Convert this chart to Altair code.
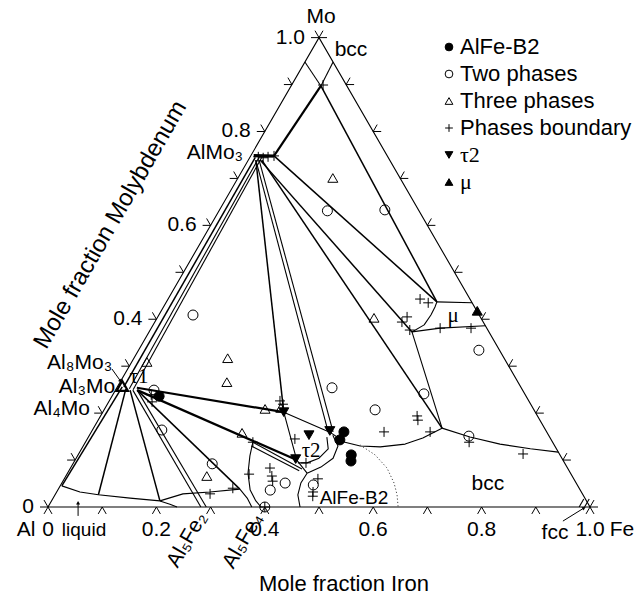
import numpy as np
import pandas as pd
import altair as alt

SQ3 = np.sqrt(3.0)

# ---------------------------------------------------------------------------
# Sample compositions, mole fractions (x_Fe, x_Mo); x_Al = 1 - x_Fe - x_Mo
# ---------------------------------------------------------------------------
B2_FE = [0.466, 0.467, 0.504, 0.510, 0.087]
B2_MO = [0.160, 0.143, 0.111, 0.098, 0.236]

TWO_FE = [0.200, 0.305, 0.063, 0.071, 0.128, 0.257, 0.397, 0.500, 0.573,
          0.628, 0.701, 0.392, 0.412, 0.466, 0.400]
TWO_MO = [0.631, 0.633, 0.409, 0.249, 0.164, 0.092, 0.254, 0.207, 0.241,
          0.334, 0.151, 0.036, 0.051, 0.047, 0.000]

THREE_FE = [0.175, 0.028, 0.173, 0.197, 0.296, 0.324, 0.279, 0.260, 0.400]
THREE_MO = [0.701, 0.309, 0.317, 0.266, 0.209, 0.211, 0.158, 0.066, 0.403]

BOUND_FE = [0.015, 0.025, 0.033, 0.043, 0.058, 0.465, 0.484, 0.460, 0.456,
            0.479, 0.533, 0.590, 0.584, 0.590, 0.540, 0.625, 0.708, 0.820,
            0.383, 0.429, 0.315, 0.324, 0.368, 0.380, 0.387, 0.468, 0.473,
            0.477, 0.309, 0.336, 0.285, 0.321, 0.071, 0.080, 0.400]
BOUND_MO = [0.746, 0.744, 0.746, 0.748, 0.899, 0.443, 0.435, 0.405, 0.394,
            0.377, 0.381, 0.381, 0.194, 0.185, 0.160, 0.160, 0.138, 0.113,
            0.145, 0.094, 0.226, 0.219, 0.083, 0.066, 0.055, 0.060, 0.032,
            0.023, 0.138, 0.070, 0.028, 0.040, 0.239, 0.224, 0.000]

TAU2_FE = [0.334, 0.405, 0.439, 0.406]
TAU2_MO = [0.202, 0.153, 0.162, 0.102]

MU_FE = [0.583]
MU_MO = [0.418]

AL3MO_FE = [0.008]
AL3MO_MO = [0.258]

# ---------------------------------------------------------------------------
# Tie lines and phase boundaries: (x_Fe list, x_Mo list)
# ---------------------------------------------------------------------------
LINES = {
    "bcc_solvus_al": ([0.000, 0.055], [0.948, 0.897]),
    "bcc_solvus_fe": ([0.052, 0.055], [0.948, 0.897]),
    "bcc_mu": ([0.055, 0.499], [0.897, 0.437]),
    "bcc_almo3": ([0.055, 0.043], [0.897, 0.748]),
    "almo3": ([0.005, 0.043], [0.749, 0.748]),
    "almo3_mu_top": ([0.043, 0.499], [0.748, 0.437]),
    "almo3_mu_low": ([0.022, 0.485], [0.739, 0.373]),
    "almo3_bcc": ([0.025, 0.643], [0.739, 0.168]),
    "almo3_tau2": ([0.014, 0.334], [0.739, 0.202]),
    "almo3_b2_a": ([0.014, 0.437], [0.739, 0.160]),
    "almo3_b2_b": ([0.020, 0.446], [0.739, 0.160]),
    "almo3_tau1_a": ([0.010, 0.012], [0.745, 0.256]),
    "almo3_tau1_b": ([0.017, 0.024], [0.745, 0.252]),
    "almo3_tau1_c": ([0.022, 0.032], [0.745, 0.250]),
    "tau1_liq_a": ([0.009, 0.003], [0.256, 0.045]),
    "tau1_liq_b": ([0.018, 0.080], [0.251, 0.026]),
    "tau1_liq_c": ([0.027, 0.200], [0.249, 0.013]),
    "tau1_al5fe2_a": ([0.032, 0.282], [0.249, 0.000]),
    "tau1_al5fe2_b": ([0.040, 0.292], [0.249, 0.000]),
    "tau1_al2fe": ([0.040, 0.335], [0.249, 0.038]),
    "tau1_tau2_top": ([0.037, 0.334], [0.254, 0.202]),
    "tau1_tau2_low": ([0.040, 0.409], [0.249, 0.100]),
    "tau2_left": ([0.334, 0.409, 0.442], [0.202, 0.100, 0.072]),
    "tau2_bcc": ([0.334, 0.443, 0.479, 0.511, 0.549, 0.592, 0.618, 0.643],
                 [0.202, 0.158, 0.138, 0.130, 0.128, 0.134, 0.147, 0.168]),
    "tau2_outer": ([0.449, 0.470, 0.474, 0.461, 0.442],
                   [0.153, 0.130, 0.104, 0.085, 0.072]),
    "tau2_inner": ([0.440, 0.455, 0.448, 0.431, 0.414],
                   [0.149, 0.124, 0.104, 0.094, 0.094]),
    "b2_left": ([0.442, 0.441, 0.448, 0.465], [0.072, 0.051, 0.026, 0.000]),
    "al2fe_a": ([0.309, 0.428], [0.138, 0.081]),
    "al2fe_b": ([0.310, 0.425], [0.130, 0.077]),
    "al5fe4": ([0.309, 0.318, 0.333, 0.355, 0.377, 0.393],
               [0.138, 0.109, 0.072, 0.036, 0.013, 0.000]),
    "liquidus": ([0.003, 0.043, 0.080, 0.142, 0.200, 0.222, 0.238],
                 [0.045, 0.032, 0.026, 0.019, 0.013, 0.006, 0.000]),
    "al5fe2_top": ([0.200, 0.235, 0.283, 0.335], [0.013, 0.028, 0.032, 0.038]),
    "al2fe_low": ([0.335, 0.358, 0.376], [0.038, 0.019, 0.000]),
    "bcc_fe": ([0.643, 0.704, 0.767, 0.828, 0.883],
               [0.168, 0.149, 0.134, 0.124, 0.117]),
    "bcc_mu_corner": ([0.643, 0.485], [0.168, 0.373]),
    "mu_left": ([0.485, 0.500, 0.502, 0.501, 0.499],
                [0.373, 0.388, 0.409, 0.426, 0.437]),
    "mu_top": ([0.499, 0.565], [0.437, 0.435]),
    "mu_bottom": ([0.485, 0.533, 0.614], [0.373, 0.381, 0.386]),
    "fcc_a": ([0.980, 0.980], [0.000, 0.017]),
    "fcc_b": ([0.990, 0.990], [0.000, 0.017]),
    "b2_a2": ([0.510, 0.548, 0.584, 0.613, 0.631, 0.646],
              [0.132, 0.111, 0.083, 0.051, 0.026, 0.000]),
}

LINE_CLASS = {
    "almo3": "phase",
    "bcc_almo3": "heavy", "tau1_tau2_top": "heavy", "tau1_tau2_low": "heavy",
    "bcc_mu": "tie", "almo3_mu_top": "tie", "almo3_mu_low": "tie",
    "almo3_bcc": "tie", "almo3_tau2": "tie", "almo3_tau1_a": "tie",
    "tau1_liq_a": "tie", "tau1_liq_b": "tie", "tau1_liq_c": "tie",
    "tau1_al2fe": "tie",
    "b2_a2": "dotted",
}
CLASS_STYLE = {
    "phase": dict(strokeWidth=3.0),
    "heavy": dict(strokeWidth=2.2),
    "tie": dict(strokeWidth=1.5),
    "fine": dict(strokeWidth=1.1),
    "dotted": dict(strokeWidth=1.0, strokeDash=[1.2, 2.2], color="#444444"),
}

# annotation arrows: (x_Fe start, x_Mo start, x_Fe tip, x_Mo tip, heading in degrees)
ARROWS = [
    (0.065, -0.019, 0.051, 0.009, 0),      # liquid
    (0.965, -0.030, 0.990, -0.002, 58),    # fcc
    (-0.029, 0.294, 0.000, 0.268, 143),    # Al8Mo3
]

TICK_VALUES = [round(0.1 * i, 1) for i in range(11)]
BOTTOM_LABELS = {0.0: "0", 0.2: "0.2", 0.4: "0.4", 0.6: "0.6", 0.8: "0.8", 1.0: "1.0"}
LEFT_LABELS = {0.0: "0", 0.4: "0.4", 0.6: "0.6", 0.8: "0.8", 1.0: "1.0"}

# text: (text, x_Fe, x_Mo)
PHASE_NAMES_LEFT = [("Al₄Mo", -0.027, 0.209), ("Al₃Mo", -0.004, 0.256),
                    ("Al₈Mo₃", -0.035, 0.307), ("AlMo₃", -0.017, 0.754)]
SANS_LABELS = [("Mo", -0.018, 1.044), ("bcc", 0.072, 0.974), ("bcc", 0.787, 0.049),
               ("Al", -0.016, -0.049), ("fcc", 0.963, -0.055)]
SMALL_LABELS = [("liquid", 0.091, -0.049), ("AlFe-B2", 0.555, 0.019)]
GREEK_LABELS = [("μ", 0.544, 0.407), ("τ2", 0.426, 0.119), ("τ1", 0.030, 0.276)]
ROTATED_LABELS = [("Al₅Fe₂", 0.292, -0.070), ("Al₅Fe₄", 0.396, -0.072)]
AXIS_TITLES = [("Mole fraction Iron", 0.628, -0.164, 0),
               ("Mole fraction Molybdenum", -0.185, 0.601, 300)]

KINDS = ["AlFe-B2", "Two phases", "Three phases", "Phases boundary", "τ2", "μ"]
KIND_SHAPES = ["circle", "circle", "triangle-up", "M-1,0H1M0,-1V1",
               "triangle-down", "triangle-up"]
KIND_FILLS = ["black", "transparent", "transparent", "transparent", "black", "black"]

SANS = "Liberation Sans"
SERIF = "Liberation Serif"


def cart(fe, mo):
    fe = np.asarray(fe, dtype=float)
    mo = np.asarray(mo, dtype=float)
    return fe + mo / 2.0, mo * SQ3 / 2.0


# plot-area scales: Al corner at the origin, Fe corner at X = 1
XS = alt.Scale(domain=[-48 / 542, 591 / 542], nice=False, zero=False)
YS = alt.Scale(domain=[-89 / 542, 507 / 542], nice=False, zero=False)
X_ENC = alt.X("X:Q", scale=XS, axis=None)
Y_ENC = alt.Y("Y:Q", scale=YS, axis=None)

layers = []

# --- triangle frame ---------------------------------------------------------
fx, fy = cart([0, 1, 0, 0], [0, 0, 1, 0])
frame = pd.DataFrame({"X": fx, "Y": fy, "seq": range(4)})
layers.append(alt.Chart(frame).mark_line(color="black", strokeWidth=1.1)
              .encode(x=X_ENC, y=Y_ENC, order="seq:Q"))

# --- ticks on the three edges ------------------------------------------------
TL = 8 / 542
rows = []
for t in TICK_VALUES:
    bx, by = cart(t, 0)
    rows += [(bx, by, bx - 0.5 * TL, by - 0.866 * TL), (bx, by, bx + 0.5 * TL, by - 0.866 * TL)]
    lx, ly = cart(0, t)
    rows += [(lx, ly, lx - TL, ly), (lx, ly, lx - 0.5 * TL, ly + 0.866 * TL)]
    rx, ry = cart(1 - t, t)
    rows += [(rx, ry, rx + TL, ry), (rx, ry, rx + 0.5 * TL, ry + 0.866 * TL)]
ticks = pd.DataFrame(rows, columns=["X", "Y", "X2", "Y2"])
layers.append(alt.Chart(ticks).mark_rule(color="black", strokeWidth=1)
              .encode(x=X_ENC, y=Y_ENC, x2="X2:Q", y2="Y2:Q"))

# --- phase diagram lines -----------------------------------------------------
line_rows = []
for name, (fe, mo) in LINES.items():
    xs, ys = cart(fe, mo)
    for i, (x, y) in enumerate(zip(xs, ys)):
        line_rows.append({"name": name, "seq": i, "X": x, "Y": y,
                          "cls": LINE_CLASS.get(name, "fine")})
line_df = pd.DataFrame(line_rows)
for cls, style in CLASS_STYLE.items():
    sub = line_df[line_df["cls"] == cls]
    if sub.empty:
        continue
    kw = dict(color="black", strokeJoin="round")
    kw.update(style)
    layers.append(alt.Chart(sub).mark_line(**kw)
                  .encode(x=X_ENC, y=Y_ENC, detail="name:N", order="seq:Q"))

# --- arrows -----------------------------------------------------------------
ax0, ay0 = cart([a[0] for a in ARROWS], [a[1] for a in ARROWS])
ax1, ay1 = cart([a[2] for a in ARROWS], [a[3] for a in ARROWS])
arrows = pd.DataFrame({"X": ax0, "Y": ay0, "X2": ax1, "Y2": ay1,
                       "tipX": ax1, "tipY": ay1, "ang": [a[4] for a in ARROWS]})
layers.append(alt.Chart(arrows).mark_rule(color="black", strokeWidth=1)
              .encode(x=X_ENC, y=Y_ENC, x2="X2:Q", y2="Y2:Q"))
layers.append(alt.Chart(arrows).mark_point(shape="triangle-up", filled=True, size=16,
                                           color="black", opacity=1)
              .encode(x=alt.X("tipX:Q", scale=XS, axis=None),
                      y=alt.Y("tipY:Q", scale=YS, axis=None),
                      angle=alt.Angle("ang:Q", scale=alt.Scale(domain=[0, 360], range=[0, 360]))))

# --- measured points with legend ----------------------------------------------
groups = [(KINDS[0], B2_FE, B2_MO), (KINDS[1], TWO_FE, TWO_MO),
          (KINDS[2], THREE_FE, THREE_MO), (KINDS[3], BOUND_FE, BOUND_MO),
          (KINDS[4], TAU2_FE, TAU2_MO), (KINDS[5], MU_FE, MU_MO)]
pt_rows = []
for kind, fe, mo in groups:
    xs, ys = cart(fe, mo)
    for x, y in zip(xs, ys):
        pt_rows.append({"kind": kind, "X": x, "Y": y})
points = pd.DataFrame(pt_rows)

legend = alt.Legend(
    title=None, orient="none", legendX=438, legendY=36, padding=0,
    symbolSize=60, symbolStrokeWidth=1,
    labelFont={"expr": "(datum.label == 'μ' || datum.label == 'τ2') ? 'Liberation Serif' : 'Liberation Sans'"},
    labelFontSize=22, labelColor="black", labelLimit=400,
    rowPadding=5, labelOffset=0,
)
layers.append(
    alt.Chart(points).mark_point(filled=True, size=100, strokeWidth=1, opacity=1)
    .encode(x=X_ENC, y=Y_ENC,
            shape=alt.Shape("kind:N", scale=alt.Scale(domain=KINDS, range=KIND_SHAPES), legend=legend),
            fill=alt.Fill("kind:N", scale=alt.Scale(domain=KINDS, range=KIND_FILLS), legend=legend),
            stroke=alt.Stroke("kind:N", scale=alt.Scale(domain=KINDS, range=["black"] * 6), legend=legend))
)

# Al3Mo three-phase corner drawn heavier
ax, ay = cart(AL3MO_FE, AL3MO_MO)
layers.append(alt.Chart(pd.DataFrame({"X": ax, "Y": ay}))
              .mark_point(shape="triangle-up", size=130, stroke="black", strokeWidth=2.2,
                          fill="transparent", filled=False, opacity=1)
              .encode(x=X_ENC, y=Y_ENC))

# --- text -------------------------------------------------------------------
def text_df(items):
    xs, ys = cart([i[1] for i in items], [i[2] for i in items])
    return pd.DataFrame({"text": [i[0] for i in items], "X": xs, "Y": ys})


bl = [(v, t, 0.0) for t, v in BOTTOM_LABELS.items()]
layers.append(alt.Chart(text_df(bl)).mark_text(font=SANS, fontSize=21, dy=23, color="black",
                                                baseline="middle", align="center")
              .encode(x=X_ENC, y=Y_ENC, text="text:N"))
ll = [(v, 0.0, t) for t, v in LEFT_LABELS.items()]
layers.append(alt.Chart(text_df(ll)).mark_text(font=SANS, fontSize=21, dx=-14, color="black",
                                                baseline="middle", align="right")
              .encode(x=X_ENC, y=Y_ENC, text="text:N"))
layers.append(alt.Chart(text_df(PHASE_NAMES_LEFT)).mark_text(font=SANS, fontSize=21, color="black",
                                                              baseline="middle", align="right")
              .encode(x=X_ENC, y=Y_ENC, text="text:N"))
layers.append(alt.Chart(text_df(SANS_LABELS)).mark_text(font=SANS, fontSize=21, color="black",
                                                         baseline="middle", align="center")
              .encode(x=X_ENC, y=Y_ENC, text="text:N"))
layers.append(alt.Chart(text_df([("Fe", 1.061, -0.049)])).mark_text(
    font=SANS, fontSize=21, color="black", baseline="middle", align="left")
    .encode(x=X_ENC, y=Y_ENC, text="text:N"))
layers.append(alt.Chart(text_df(SMALL_LABELS)).mark_text(font=SANS, fontSize=19, color="black",
                                                          baseline="middle", align="center")
              .encode(x=X_ENC, y=Y_ENC, text="text:N"))
layers.append(alt.Chart(text_df(GREEK_LABELS)).mark_text(font=SERIF, fontSize=21, color="black",
                                                          baseline="middle", align="center")
              .encode(x=X_ENC, y=Y_ENC, text="text:N"))
layers.append(alt.Chart(text_df(ROTATED_LABELS)).mark_text(font=SANS, fontSize=21, color="black",
                                                            baseline="middle", align="center",
                                                            angle=300)
              .encode(x=X_ENC, y=Y_ENC, text="text:N"))
layers.append(alt.Chart(text_df([AXIS_TITLES[0][:3]])).mark_text(
    font=SANS, fontSize=22, color="black", baseline="middle", align="center")
    .encode(x=X_ENC, y=Y_ENC, text="text:N"))
layers.append(alt.Chart(text_df([AXIS_TITLES[1][:3]])).mark_text(
    font=SANS, fontSize=24, color="black", baseline="middle", align="center", angle=300)
    .encode(x=X_ENC, y=Y_ENC, text="text:N"))

chart = (
    alt.layer(*layers)
    .properties(width=639, height=596, padding=0,
                autosize=alt.AutoSizeParams(type="none"))
    .configure_view(strokeWidth=0)
)

chart.save("out.html", embed_options={"renderer": "svg", "actions": False})
